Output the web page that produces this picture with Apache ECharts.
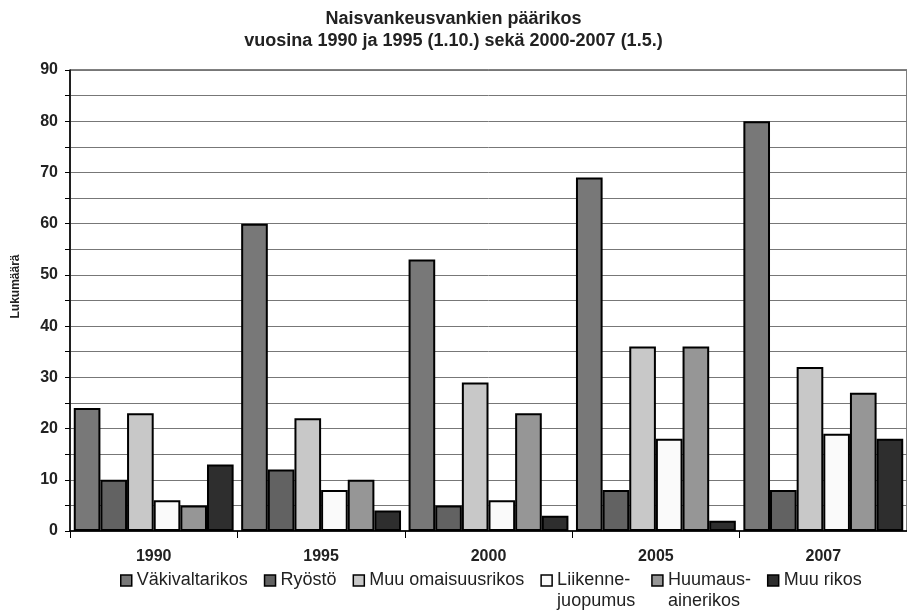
<!DOCTYPE html>
<html>
<head>
<meta charset="utf-8">
<script src="https://cdn.jsdelivr.net/npm/echarts@6/dist/echarts.min.js"></script>
<style>
  html, body { margin: 0; padding: 0; background: #fff; }
  #chart { width: 907px; height: 616px; }
</style>
</head>
<body>
<div id="chart"></div>
<script>
// vuodet
var years = ['1990', '1995', '2000', '2005', '2007'];

// rikosryhmät
var vakivalta = [24, 60, 53, 69, 80];
var ryosto = [10, 12, 5, 8, 8];
var omaisuus = [23, 22, 29, 36, 32];
var liikenne = [6, 8, 6, 18, 19];
var huumaus = [5, 10, 23, 36, 27];
var muuRikos = [13, 4, 3, 2, 18];

var seriesNames = ['Väkivaltarikos', 'Ryöstö', 'Muu omaisuusrikos', 'Liikennejuopumus', 'Huumausainerikos', 'Muu rikos'];
var legendLabels = ['Väkivaltarikos', 'Ryöstö', 'Muu omaisuusrikos', 'Liikenne-\njuopumus', 'Huumaus-\nainerikos', 'Muu rikos'];
var seriesData = [vakivalta, ryosto, omaisuus, liikenne, huumaus, muuRikos];
var colors = ['#787878', '#626262', '#c8c8c8', '#fafafa', '#969696', '#2e2e2e'];

var font = 'Liberation Sans, Arial, sans-serif';

var chart = echarts.init(document.getElementById('chart'), null, {renderer: 'canvas'});

var series = [];
for (var i = 0; i < seriesNames.length; i++) {
    series.push({
        name: seriesNames[i],
        type: 'bar',
        data: seriesData[i],
        barGap: '0%',
        barCategoryGap: '4.5%',
        itemStyle: {
            color: colors[i],
            borderColor: '#000',
            borderWidth: 2
        }
    });
}

var option = {
    animation: false,
    backgroundColor: '#fff',
    title: {
        text: 'Naisvankeusvankien päärikos\nvuosina 1990 ja 1995 (1.10.) sekä 2000-2007 (1.5.)',
        left: 'center',
        top: 3,
        padding: [5, 10, 5, 0],
        textStyle: {
            fontFamily: font,
            fontSize: 18,
            fontWeight: 'bold',
            lineHeight: 22,
            color: '#222'
        }
    },
    legend: {
        data: seriesNames,
        left: 120,
        top: 549,
        padding: 0,
        itemWidth: 11,
        itemHeight: 11,
        itemGap: 16,
        icon: 'rect',
        itemStyle: {borderColor: '#000', borderWidth: 1.5},
        // kaksirivisissä ensimmäinen rivi ikonin tasolle
        formatter: function (name) {
            var lbl = legendLabels[seriesNames.indexOf(name)];
            return lbl.indexOf('\n') >= 0 ? ' \n' + lbl : lbl;
        },
        textStyle: {
            fontFamily: font,
            fontSize: 18,
            lineHeight: 21,
            color: '#222'
        }
    },
    grid: {
        left: 70,
        top: 70,
        width: 846,
        bottom: 85,
        show: true,
        borderColor: '#000',
        borderWidth: 1
    },
    xAxis: {
        type: 'category',
        data: years,
        axisLine: {lineStyle: {color: '#000', width: 1.5}},
        axisTick: {show: true, length: 7, lineStyle: {color: '#000'}},
        axisLabel: {
            fontFamily: font,
            fontSize: 16,
            fontWeight: 'bold',
            color: '#222',
            margin: 18
        }
    },
    yAxis: {
        type: 'value',
        min: 0,
        max: 90,
        interval: 5,
        name: 'Lukumäärä',
        nameLocation: 'middle',
        nameRotate: 90,
        nameGap: 48,
        nameTextStyle: {fontFamily: font, fontSize: 12, fontWeight: 'bold', color: '#222', padding: [0, 0, 0, 28]},
        axisLine: {show: true, lineStyle: {color: '#000', width: 1.5}},
        axisTick: {show: true, length: 5, lineStyle: {color: '#000'}},
        axisLabel: {
            fontFamily: font,
            fontSize: 16,
            fontWeight: 'bold',
            color: '#222',
            margin: 12,
            formatter: function (v) {
                return v % 10 === 0 ? v : '';
            }
        },
        splitLine: {lineStyle: {color: '#777', width: 1}}
    },
    series: series
};

chart.setOption(option);
</script>
</body>
</html>
